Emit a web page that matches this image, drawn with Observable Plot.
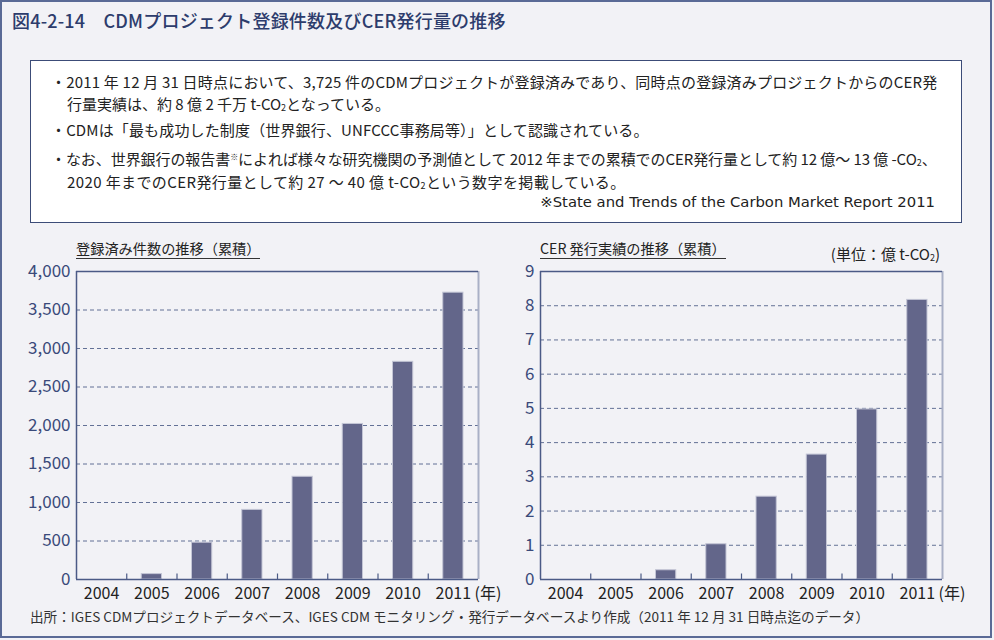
<!DOCTYPE html>
<html><head><meta charset="utf-8">
<script src="https://cdn.jsdelivr.net/npm/d3@7"></script>
<script src="https://cdn.jsdelivr.net/npm/@observablehq/plot@0.6"></script>
<style>
html,body{margin:0;padding:0;background:#f2f2f6;}
#fig{position:relative;width:994px;height:640px;background:#f2f2f6;overflow:hidden;font-family:"Noto Sans CJK JP","Noto Sans",sans-serif;color:#222;}
#frameBorder{position:absolute;left:0;top:0;width:992px;height:638px;box-sizing:border-box;border:2px solid #5a6a96;}
#title{position:absolute;left:12px;top:7px;font-size:18px;font-weight:500;color:#2d3c6c;line-height:26px;white-space:nowrap;letter-spacing:0.2px;}
#box{position:absolute;left:30px;top:60px;width:932px;height:163px;box-sizing:border-box;background:#fff;border:1.5px solid #3c4c78;}
.ln{position:absolute;font-size:15px;line-height:20px;white-space:nowrap;color:#222;}
.ln sub{font-size:9px;vertical-align:-1px;line-height:0;}
.ln sup{font-size:8px;vertical-align:5px;line-height:0;}
.latin{font-family:"DejaVu Sans",sans-serif;font-size:14.8px;}
.sub{position:absolute;font-size:14.2px;line-height:18px;padding-bottom:1px;border-bottom:1.5px solid #333;white-space:nowrap;color:#222;}
#unit{position:absolute;right:54px;top:244px;font-size:15px;line-height:20px;white-space:nowrap;color:#222;}
#unit sub{font-size:9px;vertical-align:-1px;line-height:0;}
#caption{position:absolute;left:30px;top:606px;font-size:13.6px;line-height:20px;white-space:nowrap;color:#333;}
.chart{position:absolute;top:250px;}
</style>
</head><body>
<div id="fig">
  <div id="frameBorder"></div>
  <div id="title">図4-2-14　CDMプロジェクト登録件数及びCER発行量の推移</div>
  <div id="box"></div>
  <div class="ln" style="left:51px;top:72px;letter-spacing:0.2px;">・2011 年 12 月 31 日時点において、3,725 件のCDMプロジェクトが登録済みであり、同時点の登録済みプロジェクトからのCER発</div>
  <div class="ln" style="left:67px;top:94px;">行量実績は、約 8 億 2 千万 t-CO<sub>2</sub>となっている。</div>
  <div class="ln" style="left:51px;top:120px;letter-spacing:0.15px;">・CDMは「最も成功した制度（世界銀行、UNFCCC事務局等）」として認識されている。</div>
  <div class="ln" style="left:51px;top:149px;letter-spacing:-0.07px;">・なお、世界銀行の報告書<sup>※</sup>によれば様々な研究機関の予測値として 2012 年までの累積でのCER発行量として約 12 億～ 13 億 -CO<sub>2</sub>、</div>
  <div class="ln" style="left:67px;top:172px;letter-spacing:0.4px;">2020 年までのCER発行量として約 27 ～ 40 億 t-CO<sub>2</sub>という数字を掲載している。</div>
  <div class="ln latin" style="right:59px;top:192px;">※State and Trends of the Carbon Market Report 2011</div>
  <div class="sub" style="left:76px;top:239px;">登録済み件数の推移（累積）</div>
  <div class="sub" style="left:540px;top:239px;">CER 発行実績の推移（累積）</div>
  <div id="unit">(単位：億 t-CO<sub>2</sub>)</div>
  <div id="left" class="chart" style="left:0px;"></div>
  <div id="right" class="chart" style="left:470px;"></div>
  <div id="caption">出所：IGES CDMプロジェクトデータベース、IGES CDM モニタリング・発行データベースより作成（2011 年 12 月 31 日時点迄のデータ）</div>
</div>
<script>
const years = ["2004", "2005", "2006", "2007", "2008", "2009", "2010", "2011"];
const registered = [0, 70, 478, 904, 1334, 2020, 2827, 3725];
const cerIssued = [0, 0, 0.27, 1.03, 2.42, 3.65, 4.97, 8.17];
const leftTicks = [0, 500, 1000, 1500, 2000, 2500, 3000, 3500, 4000];
const rightTicks = [0, 1, 2, 3, 4, 5, 6, 7, 8, 9];
const yearUnit = "(年)";

const navy = "#4b5a86";
const font = '"Noto Sans CJK JP","Noto Sans",sans-serif';
// upward tick glyph used at category boundaries on the baseline
const upTick = {draw(ctx) { ctx.moveTo(0, 0); ctx.lineTo(0, -6); }};

function barChart(values, ticks, tickFormat, ml, mr) {
  const data = years.map((year, i) => ({year, i, value: values[i]}));
  const n = years.length;
  const yMax = d3.max(ticks);
  const bounds = d3.range(1, n);
  const centers = d3.range(n).map(i => i + 0.5);
  return Plot.plot({
    width: 500, height: 360,
    marginTop: 21, marginBottom: 31, marginLeft: ml, marginRight: mr,
    style: {background: "transparent", fontFamily: font, overflow: "visible"},
    x: {domain: [0, n], axis: null},
    y: {domain: [0, yMax], axis: null},
    marks: [
      Plot.gridY(ticks.filter(t => t > 0 && t < yMax), {stroke: "#4a5a85", strokeOpacity: 0.85, strokeDasharray: "4,3"}),
      Plot.rectY(data.filter(d => d.value > 0), {x1: "i", x2: d => d.i + 1, y: "value", insetLeft: 15, insetRight: 15, fill: "#63668a", stroke: "#c3c5d5", strokeWidth: 1}),
      Plot.ruleX([n], {stroke: "#a9b0c6", strokeWidth: 2}),
      Plot.ruleY([yMax], {stroke: navy, strokeWidth: 1.5}),
      Plot.ruleX([0], {stroke: navy, strokeWidth: 1.5}),
      Plot.ruleY([0], {stroke: navy, strokeWidth: 1.5}),
      Plot.dot(bounds, {x: d => d, y: () => 0, symbol: upTick, r: 3, stroke: navy, fill: "none", strokeWidth: 1.2}),
      Plot.axisY(ticks, {tickSize: 0, tickPadding: 6, tickFormat, fontSize: 17, color: "#3a4a7a", label: null}),
      Plot.axisX(centers, {tickSize: 0, tickPadding: 8, tickFormat: c => years[Math.round(c - 0.5)], fontSize: 16, color: "#222", label: null}),
      Plot.text([yearUnit], {x: () => n, y: () => 0, text: d => d, textAnchor: "start", lineAnchor: "middle", dx: -4, dy: 14, fontSize: 16, fill: "#222"})
    ]
  });
}

document.getElementById("left").append(barChart(registered, leftTicks, d3.format(","), 76, 22));
document.getElementById("right").append(barChart(cerIssued, rightTicks, d => String(d), 70, 28));
</script>
</body></html>
